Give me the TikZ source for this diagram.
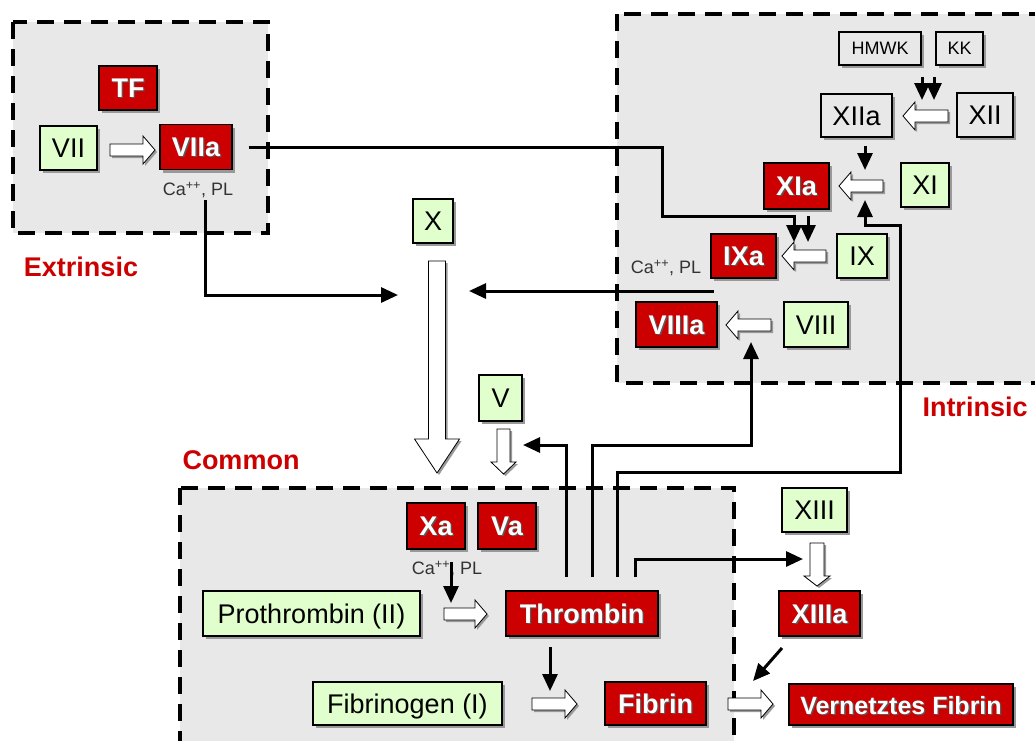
\documentclass[tikz,border=0pt]{standalone}
\usepackage{fontspec}
\setmainfont{Liberation Sans}
\usetikzlibrary{arrows.meta,shadows}
\definecolor{dred}{RGB}{204,0,0}
\definecolor{lgreen}{RGB}{224,255,204}
\definecolor{bgray}{RGB}{232,232,232}
\newcommand\wt[1]{\makebox[0pt][l]{\hspace{1.3pt}\raisebox{-1.3pt}{\color{black!65}#1}}{\color{white}#1}}
\newcommand\rarr[3]{\filldraw[blk] (#1,#3-6) -- (#2-12,#3-6) -- (#2-12,#3-14) -- (#2,#3) -- (#2-12,#3+14) -- (#2-12,#3+6) -- (#1,#3+6) -- cycle;}
\newcommand\larr[3]{\filldraw[blk] (#2,#3-6) -- (#1+12,#3-6) -- (#1+12,#3-14) -- (#1,#3) -- (#1+12,#3+14) -- (#1+12,#3+6) -- (#2,#3+6) -- cycle;}
\newcommand\darr[6]{\filldraw[blk] (#1-#4,#2) -- (#1+#4,#2) -- (#1+#4,#3-#6) -- (#1+#5,#3-#6) -- (#1,#3) -- (#1-#5,#3-#6) -- (#1-#4,#3-#6) -- cycle;}
\tikzset{
 sz/.style 2 args={minimum width=#1pt, minimum height=#2pt},
 base/.style={draw=black, line width=1.2pt, inner sep=0pt, align=center,
   drop shadow={shadow xshift=3pt,shadow yshift=-3pt,fill=black!40,opacity=1}},
 redbox/.style={base, fill=dred, font=\fontsize{27}{30}\selectfont\bfseries, text height=19.3pt, text depth=0pt},
 greenbox/.style={base, fill=lgreen, font=\fontsize{27}{30}\selectfont, text height=19.3pt, text depth=0pt},
 graybox/.style={base, fill=bgray, font=\fontsize{27}{30}\selectfont, text height=19.3pt, text depth=0pt},
 smallbox/.style={base, fill=bgray, font=\fontsize{18}{20}\selectfont, text height=12.9pt, text depth=0pt},
 area/.style={fill=bgray, draw=black, line width=4.5pt, dash pattern=on 17pt off 10pt},
 conn/.style={line width=3pt, -{Triangle[length=17pt,width=15pt]}},
 blk/.style={fill=white, draw=black, line width=0.8pt, preaction={fill=black!40, transform canvas={shift={(2pt,-2pt)}}}},
 lab/.style={text=dred, font=\fontsize{27}{30}\selectfont\bfseries},
 small/.style={text=black!80, font=\fontsize{18}{20}\selectfont, inner sep=0pt},
}
\begin{document}
\begin{tikzpicture}[x=1pt,y=-1pt]
\clip (0,0) rectangle (1035,740);
\path[use as bounding box] (0,0) rectangle (1035,740);
% areas
\draw[area] (13,22) rectangle (268,233);
\draw[area] (617,14) rectangle (1070,383);
\draw[area] (180,488) rectangle (734,780);
% area labels
\node[lab] (lext) at (81,267) {Extrinsic};
\node[lab] (lint) at (975,407) {Intrinsic};
\node[lab] (lcom) at (241,460) {Common};
% extrinsic
\node[redbox, sz={58}{44}] (TF) at (128,88) {\wt{TF}};
\node[greenbox, sz={57}{44}] (VII) at (68.5,148) {VII};
\node[redbox, sz={72}{45}] (VIIa) at (196,147) {\wt{VIIa}};
\node[small] (ca1) at (198,190) {Ca\textsuperscript{++}, PL};
% X
\node[greenbox, sz={40}{44}] (X) at (433,221) {X};
% intrinsic
\node[smallbox, sz={82}{33}] (HMWK) at (880,48.5) {HMWK};
\node[smallbox, sz={47}{33}] (KK) at (959.5,48.5) {KK};
\node[graybox, sz={71}{43}] (XIIa) at (856.5,115.5) {XIIa};
\node[graybox, sz={56}{44}] (XII) at (985,115) {XII};
\node[redbox, sz={65}{46}] (XIa) at (796.5,186) {\wt{XIa}};
\node[greenbox, sz={48}{44}] (XI) at (925,185) {XI};
\node[redbox, sz={65}{44}] (IXa) at (743.5,256) {\wt{IXa}};
\node[greenbox, sz={50}{44}] (IX) at (862,256) {IX};
\node[small] (ca2) at (666,268) {Ca\textsuperscript{++}, PL};
\node[redbox, sz={81}{45}] (VIIIa) at (676.5,324.5) {\wt{VIIIa}};
\node[greenbox, sz={64}{45}] (VIII) at (816,324.5) {VIII};
% common
\node[greenbox, sz={43}{46}] (V) at (500.5,398) {V};
\node[redbox, sz={58}{46}] (Xa) at (436,526) {\wt{Xa}};
\node[redbox, sz={58}{46}] (Va) at (507,526) {\wt{Va}};
\node[small] (ca3) at (447,569) {Ca\textsuperscript{++}, PL};
\node[greenbox, sz={217}{45}] (PT) at (311.5,613.5) {Prothrombin (II)};
\node[redbox, sz={152}{45}] (Thr) at (582,613.5) {\wt{Thrombin}};
\node[greenbox, sz={189}{43}] (Fbg) at (407.5,703.5) {Fibrinogen (I)};
\node[redbox, sz={101}{43}] (Fib) at (655.5,703.5) {\wt{Fibrin}};
\node[greenbox, sz={65}{44}] (XIII) at (814.5,510) {XIII};
\node[redbox, sz={81}{45}] (XIIIa) at (819.5,613.5) {\wt{XIIIa}};
\node[redbox, sz={224}{41}, font=\fontsize{25}{28}\selectfont\bfseries] (VF) at (901,704.5) {\wt{Vernetztes Fibrin}};
% block arrows
\rarr{110}{155}{150}
\darr{437}{261}{473}{8.5}{22.5}{34}
\darr{503.5}{429}{474}{6.5}{12.5}{12}
\darr{817}{543}{586}{7}{13}{10}
\rarr{444}{487}{614}
\rarr{532}{577}{704}
\rarr{728}{773}{704}
\larr{903}{948}{116}
\larr{839}{883}{186}
\larr{782}{826}{256}
\larr{726}{771}{325}
% connectors
\draw[conn] ([xshift=16pt]VIIa.east) -- (662,147) -- (662,216) -- (794,216) -- (794,242);
\draw[conn] (808,216) -- (808,242);
\draw[conn] (205,200) |- (398,295);
\draw[conn] (714,291) -- (469,291);
\draw[conn] (865,146) -- (865,170);
\draw[conn] (922,77) -- (922,100);
\draw[conn] (934,77) -- (934,100);
\draw[conn] (566,577) |- (523,445);
\draw[conn] (592,577) |- (751,445) -- (751,342);
\draw[conn] (617,577) |- (900,472) -- (900,225) -- (865,225) -- (865,200);
\draw[conn] (635,577) |- (803,559);
\draw[conn] (451,562) -- (451,603);
\draw[conn] (550,647) -- (550,691);
\draw[conn] (782,648) -- (753,681);
\end{tikzpicture}
\end{document}
